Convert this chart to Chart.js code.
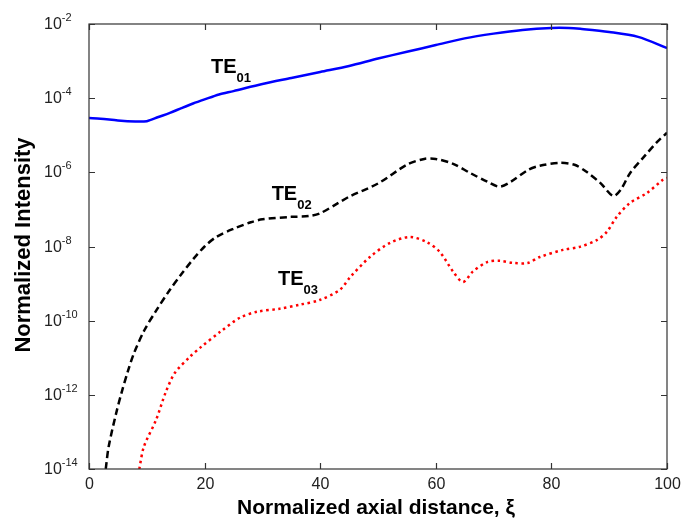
<!DOCTYPE html>
<html>
<head>
<meta charset="utf-8">
<script src="https://cdn.jsdelivr.net/npm/chart.js@4/dist/chart.umd.min.js"></script>
<style>
  html, body { margin: 0; padding: 0; background: #fff; }
  canvas { display: block; }
</style>
</head>
<body>
<canvas id="chart" width="681" height="524"></canvas>
<script>
// TE01 (blue, solid)
const te01X = [0, 2, 5, 8, 10, 12, 14, 16, 18, 20, 22.5, 25, 30, 35, 40, 45, 50, 55, 60, 65, 70, 75, 80, 83, 85, 90, 95, 100];
const te01Y = [2.9e-5, 2.8e-5, 2.5e-5, 2.35e-5, 2.4e-5, 3.1e-5, 4.0e-5, 5.4e-5, 7.2e-5, 9.3e-5, 1.26e-4, 1.55e-4, 2.4e-4, 3.5e-4, 5.1e-4, 7.4e-4, 1.17e-3, 1.78e-3, 2.7e-3, 4.1e-3, 5.5e-3, 6.9e-3, 7.8e-3, 7.8e-3, 7.4e-3, 6.1e-3, 4.5e-3, 2.25e-3];

// TE02 (black, dashed)
const te02X = [2.9, 3.4, 4.7, 5.6, 6.8, 7.8, 9.6, 11.7, 14, 16, 18, 20, 22, 25, 28, 30, 35, 38, 40, 43, 45, 50, 55, 58, 60, 63, 66, 69, 71, 73, 76, 78, 81.5, 84, 86, 88.5, 90.7, 92, 93.6, 96, 98.3, 100];
const te02Y = [1e-14, 4e-14, 3.2e-13, 1.1e-12, 4.7e-12, 1.35e-11, 5.6e-11, 1.95e-10, 6.8e-10, 1.8e-9, 4.5e-9, 1.0e-8, 1.8e-8, 3.0e-8, 4.5e-8, 5.4e-8, 6.3e-8, 6.6e-8, 7.9e-8, 1.45e-7, 2.2e-7, 5.0e-7, 1.6e-6, 2.3e-6, 2.3e-6, 1.7e-6, 9.5e-7, 5.5e-7, 4.1e-7, 5.6e-7, 1.17e-6, 1.5e-6, 1.8e-6, 1.6e-6, 1.05e-6, 5.1e-7, 2.3e-7, 3.4e-7, 9.5e-7, 2.6e-6, 6.6e-6, 1.17e-5];

// TE03 (red, dotted)
const te03X = [8.7, 9.5, 11.6, 13.3, 14.9, 17.5, 19.3, 22.7, 26.1, 29.1, 33, 36.5, 39.9, 43.4, 45.2, 48.6, 52.1, 55.5, 58.5, 60.7, 63, 64.7, 66.4, 68.9, 71.1, 73.4, 75.9, 78, 82, 84.9, 87.9, 89.6, 91.3, 93.6, 96.5, 99.3, 100];
const te03Y = [1e-14, 4e-14, 2.1e-13, 1.2e-12, 4e-12, 1.07e-11, 1.9e-11, 5e-11, 1.2e-10, 1.74e-10, 2.1e-10, 2.7e-10, 3.6e-10, 6.8e-10, 1.5e-9, 5.2e-9, 1.26e-8, 1.8e-8, 1.3e-8, 7.1e-9, 2.1e-9, 1.1e-9, 2.1e-9, 3.8e-9, 4.1e-9, 3.6e-9, 3.6e-9, 5.2e-9, 8.1e-9, 9.8e-9, 1.5e-8, 2.5e-8, 6.3e-8, 1.5e-7, 2.75e-7, 6.3e-7, 7.1e-7];

const xTicks = [0, 20, 40, 60, 80, 100];
const yTickExps = [-2, -4, -6, -8, -10, -12, -14];

const curveLabels = [
  { main: "TE", sub: "01", x: 21.1, y: 4.65e-4 },
  { main: "TE", sub: "02", x: 31.6, y: 1.8e-7 },
  { main: "TE", sub: "03", x: 32.7, y: 9.2e-10 },
];

const xTitle = "Normalized axial distance, \u03BE";
const yTitle = "Normalized Intensity";

function pairs(xs, ys) {
  return xs.map((x, i) => ({ x, y: ys[i] }));
}

const axisFont = '"Liberation Sans", Arial, sans-serif';

const decorPlugin = {
  id: "matlabAxes",
  afterDraw(chart) {
    const { ctx, chartArea } = chart;
    const xs = chart.scales.x;
    const ys = chart.scales.y;
    const { left, right, top, bottom } = chartArea;
    ctx.save();

    // box
    ctx.strokeStyle = "#333";
    ctx.lineWidth = 1.2;
    ctx.strokeRect(left, top, right - left, bottom - top);

    // ticks + x labels
    ctx.fillStyle = "#222";
    ctx.font = `16px ${axisFont}`;
    ctx.textAlign = "center";
    ctx.textBaseline = "top";
    xTicks.forEach((v) => {
      const px = Math.round(xs.getPixelForValue(v)) + 0.5;
      ctx.beginPath();
      ctx.moveTo(px, bottom);
      ctx.lineTo(px, bottom - 6);
      ctx.moveTo(px, top);
      ctx.lineTo(px, top + 6);
      ctx.stroke();
      ctx.fillText(String(v), px, bottom + 8);
    });

    // y ticks + labels 10^n
    yTickExps.forEach((e) => {
      const py = Math.round(ys.getPixelForValue(Math.pow(10, e))) + 0.5;
      ctx.beginPath();
      ctx.moveTo(left, py);
      ctx.lineTo(left + 6, py);
      ctx.moveTo(right, py);
      ctx.lineTo(right - 6, py);
      ctx.stroke();
      ctx.textAlign = "left";
      ctx.textBaseline = "middle";
      ctx.font = `16px ${axisFont}`;
      ctx.fillText("10", 44, py);
      const w = ctx.measureText("10").width;
      ctx.font = `11px ${axisFont}`;
      ctx.fillText(String(e), 44 + w, py - 7);
    });

    // curve labels
    ctx.fillStyle = "#000";
    ctx.textAlign = "left";
    ctx.textBaseline = "alphabetic";
    curveLabels.forEach((l) => {
      const px = xs.getPixelForValue(l.x);
      const py = ys.getPixelForValue(l.y);
      ctx.font = `bold 20px ${axisFont}`;
      ctx.fillText(l.main, px, py);
      const w = ctx.measureText(l.main).width;
      ctx.font = `bold 13px ${axisFont}`;
      ctx.fillText(l.sub, px + w, py + 9);
    });

    // titles
    ctx.font = `bold 21px ${axisFont}`;
    ctx.textAlign = "center";
    ctx.textBaseline = "middle";
    ctx.fillText(xTitle, 376, 508);

    ctx.font = `bold 22px ${axisFont}`;
    ctx.translate(24, 245);
    ctx.rotate(-Math.PI / 2);
    ctx.fillText(yTitle, 0, 0);

    ctx.restore();
  },
};

new Chart(document.getElementById("chart"), {
  type: "line",
  data: {
    datasets: [
      {
        label: "TE01",
        data: pairs(te01X, te01Y),
        borderColor: "#0000ff",
        borderWidth: 2.5,
        pointRadius: 0,
        tension: 0.3,
      },
      {
        label: "TE02",
        data: pairs(te02X, te02Y),
        borderColor: "#000000",
        borderWidth: 2.5,
        borderDash: [7, 4],
        pointRadius: 0,
        tension: 0.3,
      },
      {
        label: "TE03",
        data: pairs(te03X, te03Y),
        borderColor: "#ff0000",
        borderWidth: 2.5,
        borderDash: [2.5, 3.5],
        pointRadius: 0,
        tension: 0.3,
      },
    ],
  },
  options: {
    responsive: false,
    animation: false,
    events: [],
    layout: { padding: { left: 89, right: 14, top: 24, bottom: 55 } },
    plugins: { legend: { display: false }, tooltip: { enabled: false } },
    scales: {
      x: { type: "linear", min: 0, max: 100, display: false },
      y: { type: "logarithmic", min: 1e-14, max: 1e-2, display: false },
    },
  },
  plugins: [decorPlugin],
});
</script>
</body>
</html>
